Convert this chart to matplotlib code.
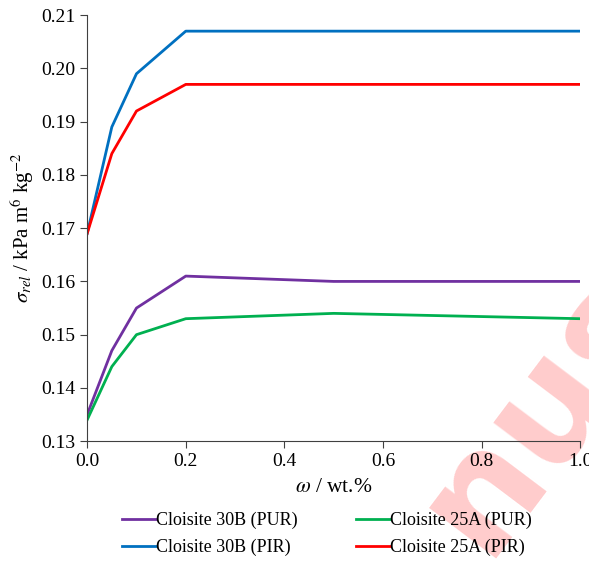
import matplotlib
matplotlib.use('Agg')
import matplotlib.pyplot as plt

plt.rcParams['font.family'] = 'Liberation Serif'
plt.rcParams['mathtext.fontset'] = 'stix'

omega = [0.0, 0.05, 0.1, 0.2, 0.5, 1.0]
pur_30b = [0.135, 0.147, 0.155, 0.161, 0.160, 0.160]
pur_25a = [0.134, 0.144, 0.150, 0.153, 0.154, 0.153]
pir_30b = [0.169, 0.189, 0.199, 0.207, 0.207, 0.207]
pir_25a = [0.169, 0.184, 0.192, 0.197, 0.197, 0.197]

fig = plt.figure(figsize=(5.89, 5.62), dpi=100)
ax = fig.add_axes([0.148, 0.215, 0.837, 0.758])
ax.patch.set_alpha(0)

ax.plot(omega, pur_30b, color='#7030a0', lw=2, label='Cloisite 30B (PUR)')
ax.plot(omega, pur_25a, color='#00b050', lw=2, label='Cloisite 25A (PUR)')
ax.plot(omega, pir_30b, color='#0070c0', lw=2, label='Cloisite 30B (PIR)')
ax.plot(omega, pir_25a, color='#ff0000', lw=2, label='Cloisite 25A (PIR)')

ax.set_xlim(0, 1.0)
ax.set_ylim(0.13, 0.21)
ax.set_xticks([0, 0.2, 0.4, 0.6, 0.8, 1.0])
ax.set_xticklabels(['0.0', '0.2', '0.4', '0.6', '0.8', '1.0'])
ax.set_yticks([0.13, 0.14, 0.15, 0.16, 0.17, 0.18, 0.19, 0.20, 0.21])
ax.set_yticklabels(['0.13', '0.14', '0.15', '0.16', '0.17', '0.18', '0.19', '0.20', '0.21'])
for s in ['top', 'right']:
    ax.spines[s].set_visible(False)
for s in ['left', 'bottom']:
    ax.spines[s].set_color('#404040')
ax.tick_params(direction='out', length=5, color='#404040', labelsize=14)

ax.set_xlabel(r'$\omega$ / wt.%', fontsize=15.5, labelpad=6)
ax.set_ylabel(r'$\sigma_{rel}$ / kPa m$^6$ kg$^{-2}$', fontsize=15)

# legend order: 30B PUR, 25A PUR in first row
h, l = ax.get_legend_handles_labels()
order = [0, 2, 1, 3]
fig.legend([h[i] for i in order], [l[i] for i in order], ncol=2,
           loc='center', bbox_to_anchor=(0.555, 0.05), frameon=False,
           fontsize=13, handlelength=1.9, handletextpad=0.0,
           columnspacing=3.2, labelspacing=0.55)

# watermark
fig.text(0.92, 0.27, 'nus', rotation=53, rotation_mode='anchor',
         fontsize=110, color='#ffcccc', fontweight='bold', family='DejaVu Sans',
         ha='center', va='center', zorder=-1)

fig.savefig('out.png', dpi=100)
